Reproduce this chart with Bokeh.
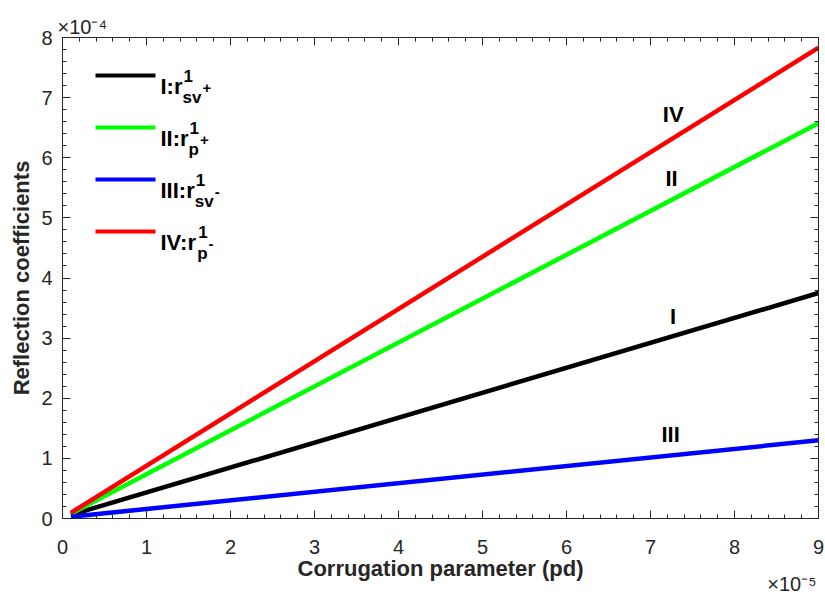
from bokeh.plotting import figure
from bokeh.models import (Range1d, LinearAxis, FixedTicker, Label, BoxAnnotation,
                          CustomJSTickFormatter, ColumnDataSource, Title)
from bokeh.core.properties import value
from bokeh.embed import file_html
from bokeh.resources import INLINE
import numpy as np

# ---------------- data (x in units of 1e-5, y in units of 1e-4) ----------------
x_vals = [0.1, 9.0]
series_names = ["I", "II", "III", "IV"]
y_I = [0.06, 3.75]
y_II = [0.08, 6.575]
y_III = [0.03, 1.30]
y_IV = [0.095, 7.83]
series_colors = ["#000000", "#00FF00", "#0000FF", "#FF0000"]

# curve labels on the plot
curve_label_text = ["IV", "II", "I", "III"]
curve_label_x = [7.27, 7.25, 7.27, 7.24]
curve_label_y = [6.72, 5.65, 3.36, 1.39]

# legend entries: main text, superscript, subscript, sub-superscript
legend_main = ["I:r", "II:r", "III:r", "IV:r"]
legend_sup = ["1", "1", "1", "1"]
legend_sub = ["sv", "p", "sv", "p"]
legend_subsup = ["+", "+", "-", "-"]

x_ticks = [0, 1, 2, 3, 4, 5, 6, 7, 8, 9]
y_ticks = [0, 1, 2, 3, 4, 5, 6, 7, 8]
x_label = "Corrugation parameter (pd)"
y_label = "Reflection coefficients"
x_mult = "\u00d710\u207b\u2075"
y_mult = "\u00d710\u207b\u2074"

# ---------------- styles ----------------
FONT = "Liberation Sans"
AX_COL = "#262626"
W, H = 825, 596
FL, FR, FT, FB = 62, 818, 37, 518  # frame edges in canvas px

p = figure(width=W, height=H, output_backend="svg", toolbar_location=None,
           x_range=Range1d(0, 9), y_range=Range1d(0, 8),
           min_border_left=FL, min_border_right=W - FR,
           min_border_top=FT, min_border_bottom=H - FB,
           background_fill_color="white", border_fill_color="white")
p.xgrid.visible = False
p.ygrid.visible = False
p.outline_line_color = None

x_minor = [round(v, 2) for v in np.arange(0, 9.0001, 0.2)]
y_minor = [round(v, 2) for v in np.arange(0, 8.0001, 0.2)]
xt = FixedTicker(ticks=x_ticks, minor_ticks=x_minor)
yt = FixedTicker(ticks=y_ticks, minor_ticks=y_minor)


def style_axis(ax, ticker):
    ax.ticker = ticker
    ax.axis_line_color = AX_COL
    ax.axis_line_width = 1
    ax.major_tick_line_color = AX_COL
    ax.minor_tick_line_color = AX_COL
    ax.major_tick_in = 8
    ax.major_tick_out = 0
    ax.minor_tick_in = 4
    ax.minor_tick_out = 0
    ax.major_label_text_font = FONT
    ax.major_label_text_font_size = "20px"
    ax.major_label_text_color = AX_COL
    ax.axis_label_text_font = FONT
    ax.axis_label_text_font_size = "22px"
    ax.axis_label_text_font_style = "bold"
    ax.axis_label_text_color = AX_COL


xa = p.xaxis[0]
style_axis(xa, xt)
xa.major_label_standoff = 21

ya = p.yaxis[0]
style_axis(ya, yt)
ya.axis_label = y_label
ya.major_label_standoff = 10
ya.axis_label_standoff = 4

blank = CustomJSTickFormatter(code="return ''")
top_ax = LinearAxis(formatter=blank, major_label_standoff=0)
style_axis(top_ax, xt)
top_ax.major_label_text_font_size = "0px"
right_ax = LinearAxis(formatter=blank, major_label_standoff=0)
style_axis(right_ax, yt)
right_ax.major_label_text_font_size = "0px"
p.add_layout(top_ax, "above")
p.add_layout(right_ax, "right")

# exponent multiplier (top-left) as the plot title
p.title.text = y_mult
p.title.align = "left"
p.title.vertical_align = "bottom"
p.title.text_font = FONT
p.title.text_font_size = "20px"
p.title.text_font_style = "normal"
p.title.text_color = AX_COL
p.title.standoff = 0
p.title.offset = -5
p.title_location = "above"

# x-axis label and x multiplier as stacked titles below the axis
xl = Title(text=x_label, align="center", vertical_align="bottom", text_font=FONT,
           text_font_size="22px", text_font_style="bold", text_color=AX_COL,
           standoff=-5)
p.add_layout(xl, "below")
xm = Title(text=x_mult, align="right", vertical_align="bottom", text_font=FONT,
           text_font_size="20px", text_font_style="normal", text_color=AX_COL,
           standoff=-16, offset=2)
p.add_layout(xm, "below")

# ---------------- lines ----------------
for ys, c in zip([y_I, y_II, y_III, y_IV], series_colors):
    p.line(x_vals, ys, line_color=c, line_width=4.5, line_cap="butt")

# curve labels
src = ColumnDataSource(dict(x=curve_label_x, y=curve_label_y, t=curve_label_text))
p.text("x", "y", text="t", source=src, text_font=value(FONT), text_font_style="bold",
       text_font_size="22px", text_align="center", text_baseline="middle",
       text_color="#000000")

# ---------------- legend (custom, screen units relative to frame) ----------------
ARIAL_BOLD = {"I": 278, "V": 667, ":": 333, "r": 389, "s": 556, "v": 556, "p": 611}


def tw(s, size):
    return sum(ARIAL_BOLD.get(ch, 556) for ch in s) * size / 1000.0


def sx(px):
    return px - FL


def sy(py):
    return FB - py


MAIN_SIZE, SCRIPT_SIZE, SS_SIZE = 22, 17, 15
leg_top = 75
leg_step = 52
for i, (main, sup, sub, ss, c) in enumerate(zip(legend_main, legend_sup, legend_sub,
                                               legend_subsup, series_colors)):
    ly = leg_top + i * leg_step
    p.add_layout(BoxAnnotation(left=sx(95), right=sx(155), top=sy(ly - 2), bottom=sy(ly + 2),
                               left_units="screen", right_units="screen",
                               top_units="screen", bottom_units="screen",
                               fill_color=c, fill_alpha=1.0, line_color=None))
    x0 = 160
    common = dict(x_units="screen", y_units="screen", text_font=FONT,
                  text_font_style="bold", text_color="#000000",
                  text_align="left", text_baseline="alphabetic")
    p.add_layout(Label(x=sx(x0), y=sy(ly + 11), text=main, text_font_size=f"{MAIN_SIZE}px", **common))
    xs = x0 + tw(main, MAIN_SIZE)
    p.add_layout(Label(x=sx(xs + 1), y=sy(ly), text=sup, text_font_size=f"{SCRIPT_SIZE}px", **common))
    p.add_layout(Label(x=sx(xs), y=sy(ly + 22), text=sub, text_font_size=f"{SCRIPT_SIZE}px", **common))
    xss = xs + tw(sub, SCRIPT_SIZE) + 1
    p.add_layout(Label(x=sx(xss), y=sy(ly + 12), text=ss, text_font_size=f"{SS_SIZE}px", **common))

open("out.html", "w").write(file_html(p, INLINE))
